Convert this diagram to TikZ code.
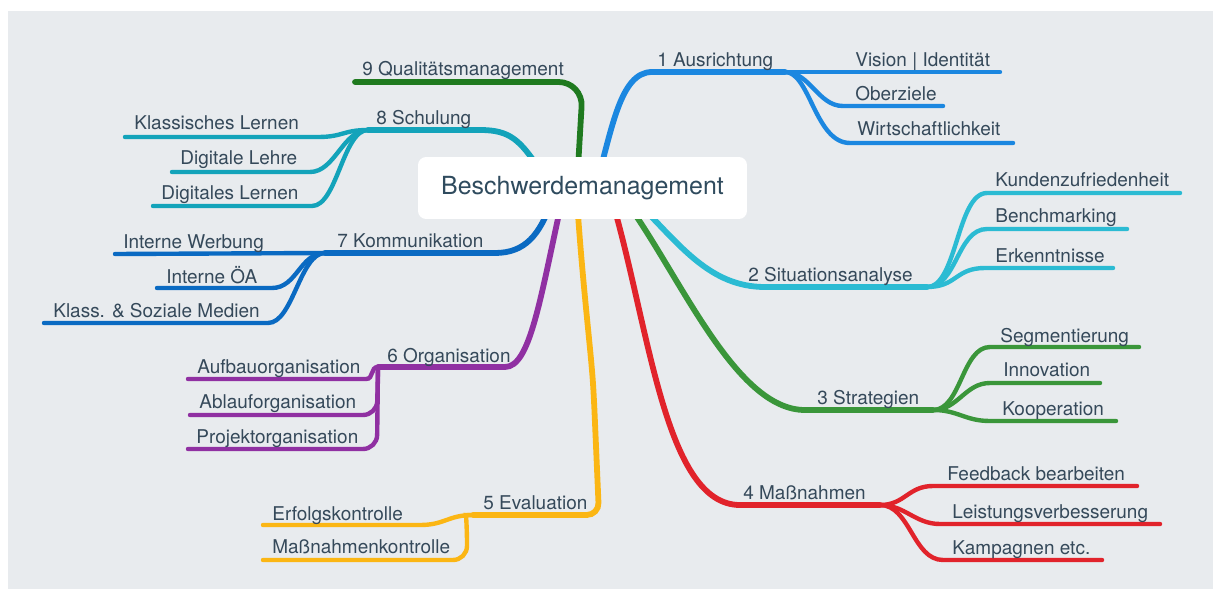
\documentclass[tikz,border=0pt]{standalone}
\usepackage{fontspec}
\setmainfont{TeX Gyre Heros}
\usetikzlibrary{calc}
\definecolor{paper}{HTML}{E8EBEE}
\definecolor{ink}{HTML}{35495A}
\definecolor{hubink}{HTML}{2F4B5E}
\definecolor{cA}{HTML}{1B87E0}% Ausrichtung
\definecolor{cB}{HTML}{2BBBD3}% Situationsanalyse
\definecolor{cC}{HTML}{3A963A}% Strategien
\definecolor{cD}{HTML}{E1232B}% Massnahmen
\definecolor{cE}{HTML}{FBB614}% Evaluation
\definecolor{cF}{HTML}{9030A2}% Organisation
\definecolor{cG}{HTML}{0A6AC2}% Kommunikation
\definecolor{cH}{HTML}{13A3BA}% Schulung
\definecolor{cI}{HTML}{1F7A1F}% Qualitaet
\tikzset{
  hub/.style={fill=white,rounded corners=1.6mm,minimum width=6.58cm,minimum height=1.24cm,
    text=hubink,font=\fontsize{14.2}{17}\selectfont},      % root topic
  lbl/.style={anchor=base west,inner sep=0pt,text=ink,
    font=\fontsize{10.8}{13}\selectfont},                  % branch text
  trunk/.style={line width=3.3pt,line cap=round},          % main branch
  twig/.style={line width=2.5pt,line cap=round},           % sub branch
}

\begin{document}
\begin{tikzpicture}[x=0.02cm,y=-0.02cm]
  \useasboundingbox (0,0) rectangle (1213,591);
  \fill[white] (0,0) rectangle (1213,591);
  \fill[paper] (8,11) rectangle (1213,589);

  % 1 Ausrichtung
  \coordinate (jA) at (785,72);
  \draw[trunk,cA] (596,185) .. controls (612,130) and (620,72) .. (652,72) -- (jA);
  \draw[twig,cA] (jA) -- (1000,72);
  \draw[twig,cA] (jA) .. controls +(25,0) and +(-25,0) .. (843,106) -- (943,106);
  \draw[twig,cA] (jA) .. controls +(25,0) and +(-35,0) .. (850,143) -- (1013,143);
  \node[lbl] (tA) at (657,67) {1 Ausrichtung};
  \node[lbl] (tA1) at (855,67) {Vision | Identität};
  \node[lbl] (tA2) at (855,101) {Oberziele};
  \node[lbl] (tA3) at (857,136) {Wirtschaftlichkeit};

  % 2 Situationsanalyse
  \coordinate (jB) at (927,287);
  \draw[trunk,cB] (640,205) .. controls (680,245) and (710,287) .. (765,287) -- (jB);
  \draw[twig,cB] (jB) .. controls +(30,0) and +(-30,0) .. (987,193) -- (1180,193);
  \draw[twig,cB] (jB) .. controls +(30,0) and +(-30,0) .. (987,229) -- (1127,229);
  \draw[twig,cB] (jB) .. controls +(30,0) and +(-30,0) .. (985,268) -- (1113,268);
  \node[lbl] (tB) at (748,281) {2 Situationsanalyse};
  \node[lbl] (tB1) at (995,187) {Kundenzufriedenheit};
  \node[lbl] (tB2) at (995,223) {Benchmarking};
  \node[lbl] (tB3) at (995,262) {Erkenntnisse};

  % 3 Strategien
  \coordinate (jC) at (933,410);
  \draw[trunk,cC] (625,200) .. controls (680,275) and (735,410) .. (805,410) -- (jC);
  \draw[twig,cC] (jC) .. controls +(28,0) and +(-28,0) .. (990,347) -- (1139,347);
  \draw[twig,cC] (jC) .. controls +(25,0) and +(-25,0) .. (990,383) -- (1100,383);
  \draw[twig,cC] (jC) .. controls +(25,0) and +(-25,0) .. (990,421) -- (1116,421);
  \node[lbl] (tC) at (817,404) {3 Strategien};
  \node[lbl] (tC1) at (1000,342) {Segmentierung};
  \node[lbl] (tC2) at (1003,376) {Innovation};
  \node[lbl] (tC3) at (1002,415) {Kooperation};

  % 4 Massnahmen
  \coordinate (jD) at (880,505);
  \draw[trunk,cD] (612,200) .. controls (650,330) and (665,505) .. (740,505) -- (jD);
  \draw[twig,cD] (jD) .. controls +(25,0) and +(-25,0) .. (933,486) -- (1137,486);
  \draw[twig,cD] (jD) .. controls +(25,0) and +(-25,0) .. (940,524) -- (1160,524);
  \draw[twig,cD] (jD) .. controls +(30,0) and +(-30,0) .. (943,560) -- (1102,560);
  \node[lbl] (tD) at (743,499) {4 Maßnahmen};
  \node[lbl] (tD1) at (947,480) {Feedback bearbeiten};
  \node[lbl] (tD2) at (952,518) {Leistungsverbesserung};
  \node[lbl] (tD3) at (952,554) {Kampagnen etc.};

  % 5 Evaluation
  \coordinate (jE) at (473,515);
  \draw[trunk,cE,rounded corners=7] (577,200) .. controls (583,290) and (591,350) .. (594,400)
    -- (599,515) -- (jE);
  \draw[twig,cE] (jE) .. controls +(-25,0) and +(25,0) .. (420,525) -- (263,525);
  \draw[twig,cE,rounded corners=8] (jE) .. controls (466,515) .. (467,529) -- (467,560) -- (263,560);
  \node[lbl] (tE) at (483,509) {5 Evaluation};
  \node[lbl] (tE1) at (272,520) {Erfolgskontrolle};
  \node[lbl] (tE2) at (272,553) {Maßnahmenkontrolle};

  % 6 Organisation
  \coordinate (jF) at (378,367);
  \draw[trunk,cF] (562,200) .. controls (540,300) and (530,367) .. (505,367) -- (jF);
  \draw[twig,cF] (jF) .. controls +(-8,0) and +(8,0) .. (366,379) -- (188,379);
  \draw[twig,cF,rounded corners=8] (jF) -- (377,415) -- (190,415);
  \draw[twig,cF,rounded corners=8] (jF) -- (377,449) -- (188,449);
  \node[lbl] (tF) at (387,362) {6 Organisation};
  \node[lbl] (tF1) at (197,373) {Aufbauorganisation};
  \node[lbl] (tF2) at (199,408) {Ablauforganisation};
  \node[lbl] (tF3) at (196,443) {Projektorganisation};

  % 7 Kommunikation
  \coordinate (jG) at (325,253);
  \draw[trunk,cG] (552,200) .. controls (540,235) and (525,253) .. (495,253) -- (jG);
  \draw[twig,cG] (jG) -- (115,254);
  \draw[twig,cG] (jG) .. controls +(-25,0) and +(25,0) .. (272,288) -- (157,288);
  \draw[twig,cG] (jG) .. controls +(-25,0) and +(25,0) .. (268,323) -- (44,323);
  \node[lbl] (tG) at (337,247) {7 Kommunikation};
  \node[lbl] (tG1) at (123,249) {Interne Werbung};
  \node[lbl] (tG2) at (166,283) {Interne ÖA};
  \node[lbl] (tG3) at (53,317) {Klass. \& Soziale Medien};

  % 8 Schulung
  \coordinate (jH) at (368,130);
  \draw[trunk,cH] (540,170) .. controls (520,140) and (510,130) .. (480,130) -- (jH);
  \draw[twig,cH] (jH) .. controls +(-25,0) and +(25,0) .. (318,137) -- (125,137);
  \draw[twig,cH] (jH) .. controls +(-25,0) and +(25,0) .. (310,172) -- (172,172);
  \draw[twig,cH] (jH) .. controls +(-25,0) and +(25,0) .. (312,206) -- (153,206);
  \node[lbl] (tH) at (376,125) {8 Schulung};
  \node[lbl] (tH1) at (134,130) {Klassisches Lernen};
  \node[lbl] (tH2) at (180,165) {Digitale Lehre};
  \node[lbl] (tH3) at (161,200) {Digitales Lernen};

  % 9 Qualitaetsmanagement
  \draw[trunk,cI,rounded corners=14] (577,185) -- (583,82) -- (355,82);
  \node[lbl] (tI) at (362,76) {9 Qualitätsmanagement};

  % root on top of the trunks
  \node[hub] (root) at (582.5,188) {Beschwerdemanagement};
\end{tikzpicture}
\end{document}
